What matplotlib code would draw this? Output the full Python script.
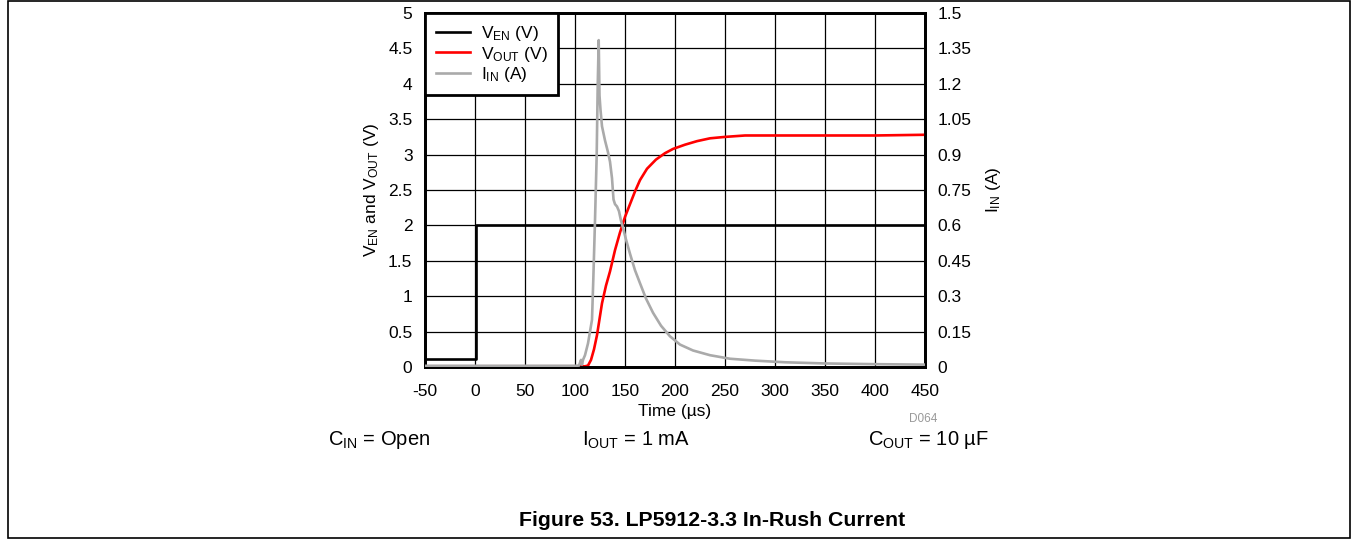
import matplotlib
matplotlib.use("Agg")
import matplotlib.pyplot as plt
from matplotlib.lines import Line2D
from matplotlib.patches import Rectangle

plt.rcParams['font.family'] = ['Liberation Sans', 'DejaVu Sans']
plt.rcParams['mathtext.fontset'] = 'custom'
plt.rcParams['mathtext.rm'] = 'Liberation Sans'
plt.rcParams['mathtext.it'] = 'Liberation Sans'
plt.rcParams['mathtext.default'] = 'regular'

# ---- data ----
t_en = [-50, 1, 1, 450]
v_en = [0.11, 0.11, 2.0, 2.0]

t_out = [-50, 0, 50, 100, 110, 113, 116, 119, 122, 127, 131, 135, 140, 145, 150,
         155, 160, 165, 172, 181, 190, 198, 210, 222, 235, 250, 270, 300, 350, 400, 450]
v_out = [0.01, 0.01, 0.01, 0.01, 0.01, 0.02, 0.10, 0.25, 0.45, 0.90, 1.15, 1.35, 1.65, 1.90, 2.12,
         2.30, 2.48, 2.64, 2.80, 2.93, 3.02, 3.08, 3.14, 3.19, 3.23, 3.25, 3.27, 3.27, 3.27, 3.27, 3.28]

t_in = [-50, 0, 50, 100, 104, 106, 107, 108, 110, 113, 117, 118.3, 120, 121.7, 122.7, 123.7,
        124.5, 125.5, 127, 130, 133, 135, 137, 138.5, 140, 142, 144, 146, 148, 151, 155, 160,
        165, 171, 178, 186, 195, 205, 218, 235, 255, 280, 310, 350, 400, 450]
i_in = [0.005, 0.005, 0.005, 0.005, 0.006, 0.03, 0.01, 0.03, 0.05, 0.10, 0.20, 0.37, 0.62, 0.90, 1.19, 1.385,
        1.15, 1.09, 1.02, 0.96, 0.91, 0.87, 0.80, 0.71, 0.69, 0.68, 0.66, 0.62, 0.59, 0.54, 0.48, 0.41,
        0.355, 0.29, 0.23, 0.175, 0.13, 0.095, 0.07, 0.05, 0.035, 0.027, 0.02, 0.015, 0.012, 0.01]

x_ticks = [-50, 0, 50, 100, 150, 200, 250, 300, 350, 400, 450]
y1_ticks = [0, 0.5, 1, 1.5, 2, 2.5, 3, 3.5, 4, 4.5, 5]
y1_labels = ['0', '0.5', '1', '1.5', '2', '2.5', '3', '3.5', '4', '4.5', '5']
y2_ticks = [0, 0.15, 0.3, 0.45, 0.6, 0.75, 0.9, 1.05, 1.2, 1.35, 1.5]
y2_labels = ['0', '0.15', '0.3', '0.45', '0.6', '0.75', '0.9', '1.05', '1.2', '1.35', '1.5']

W, H = 1353, 541
fig = plt.figure(figsize=(W / 100, H / 100), dpi=100)
fig.patch.set_facecolor('white')

# outer frame
fig.add_artist(Rectangle((8 / W, 3 / H), (1350 - 8) / W, (540 - 3) / H, transform=fig.transFigure,
                         fill=False, edgecolor='black', linewidth=1.2))

ax = fig.add_axes([425 / W, 1 - 367 / H, 500 / W, 354 / H])
ax2 = ax.twinx()

fs = 12.5
ax.set_xlim(-50, 450)
ax.set_ylim(0, 5)
ax2.set_ylim(0, 1.5)
ax.set_xticks(x_ticks)
ax.set_xticklabels([str(v) for v in x_ticks], fontsize=fs)
ax.set_yticks(y1_ticks)
ax.set_yticklabels(y1_labels, fontsize=fs)
ax2.set_yticks(y2_ticks)
ax2.set_yticklabels(y2_labels, fontsize=fs)
ax.tick_params(axis='y', length=0, pad=9)
ax.tick_params(axis='x', length=0, pad=12)
ax2.tick_params(length=0, pad=9)
ax.grid(True, color='black', linewidth=0.9)
ax.set_axisbelow(True)

ax.plot(t_en, v_en, color='black', linewidth=1.9, zorder=3)
ax.plot(t_out, v_out, color='#ff0000', linewidth=1.9, zorder=3)
ax2.plot(t_in, i_in, color='#aaaaaa', linewidth=1.9, zorder=3)

for a in (ax, ax2):
    for s in a.spines.values():
        s.set_linewidth(2.0)
        s.set_color('black')

ax.set_xlabel('Time (\u00b5s)', fontsize=fs, labelpad=4)
ax.set_ylabel('V$_{EN}$ and V$_{OUT}$ (V)', fontsize=fs, labelpad=5)
ax2.set_ylabel('I$_{IN}$ (A)', fontsize=fs, labelpad=9)

handles = [Line2D([], [], color='black', linewidth=1.9),
           Line2D([], [], color='#ff0000', linewidth=1.9),
           Line2D([], [], color='#aaaaaa', linewidth=1.9)]
labels = ['V$_{EN}$ (V)', 'V$_{OUT}$ (V)', 'I$_{IN}$ (A)']
leg = ax2.legend(handles, labels, loc='upper left', fontsize=fs, frameon=True, fancybox=False,
                 borderaxespad=0, handlelength=2.0, handletextpad=0.6, labelspacing=0.1,
                 borderpad=0.62)
leg.get_frame().set_edgecolor('black')
leg.get_frame().set_linewidth(2.0)
leg.get_frame().set_alpha(1)

fig.text(923 / W, 1 - 419 / H, 'D064', fontsize=8.5, color='#999999', ha='center', va='center')
fig.text(379 / W, 1 - 440 / H, 'C$_{IN}$ = Open', fontsize=14.5, ha='center', va='center')
fig.text(636 / W, 1 - 440 / H, 'I$_{OUT}$ = 1 mA', fontsize=14.5, ha='center', va='center')
fig.text(928 / W, 1 - 440 / H, 'C$_{OUT}$ = 10 \u00b5F', fontsize=14.5, ha='center', va='center')
fig.text(712 / W, 1 - 520 / H, 'Figure 53. LP5912-3.3 In-Rush Current', fontsize=15.3,
         fontweight='bold', ha='center', va='center')

fig.savefig('out.png', dpi=100)
